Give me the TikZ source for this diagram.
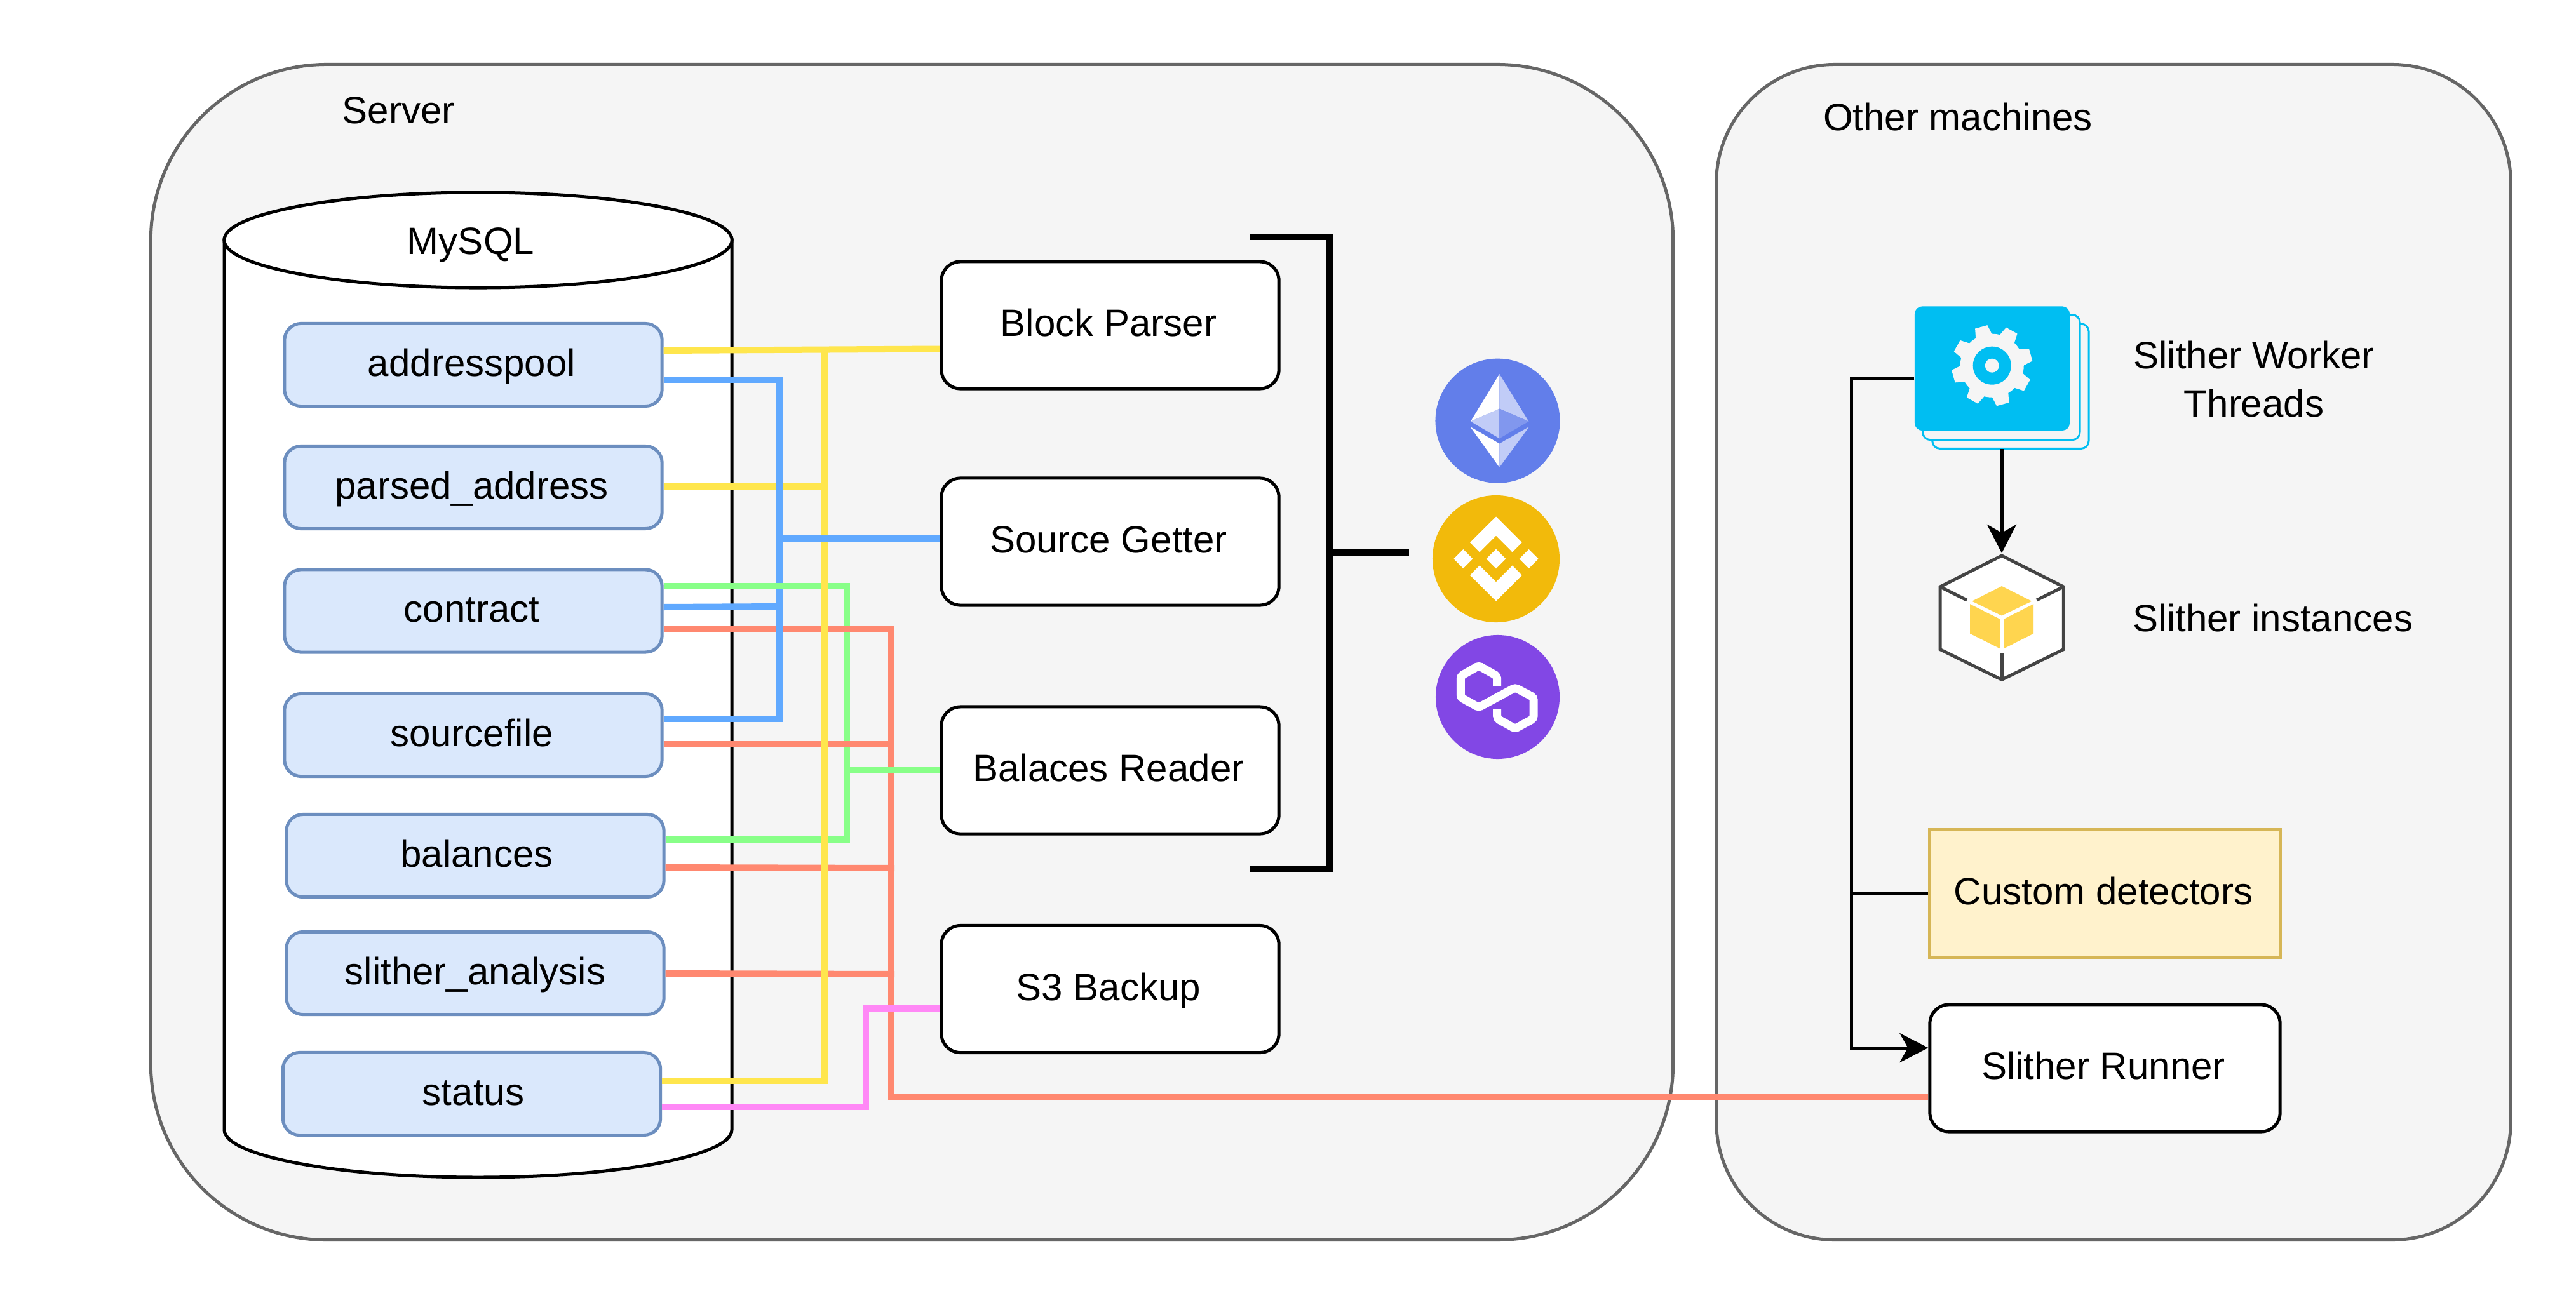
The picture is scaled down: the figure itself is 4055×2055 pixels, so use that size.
\documentclass[tikz,border=0pt]{standalone}
\usepackage{fontspec}
\setmainfont{Liberation Sans}
\usetikzlibrary{arrows.meta}
\definecolor{framefill}{HTML}{F5F5F5}
\definecolor{frameline}{HTML}{666666}
\definecolor{dbfill}{HTML}{DAE8FC}
\definecolor{dbline}{HTML}{6C8EBF}
\definecolor{noteFill}{HTML}{FFF2CC}
\definecolor{noteLine}{HTML}{D6B656}
\definecolor{wyellow}{HTML}{FFE64D}
\definecolor{wblue}{HTML}{60A9FF}
\definecolor{wgreen}{HTML}{88FF88}
\definecolor{wred}{HTML}{FF8870}
\definecolor{wpink}{HTML}{FF88F6}
\definecolor{cardblue}{HTML}{00BEF2}
\definecolor{cubeyellow}{HTML}{FFD54F}
\definecolor{cubeline}{HTML}{444444}
\definecolor{ethblue}{HTML}{627EEA}
\definecolor{ethpale}{HTML}{C1CCF7}
\definecolor{ethmid}{HTML}{8197EE}
\definecolor{bnbgold}{HTML}{F2BA0B}
\definecolor{polypurple}{HTML}{8247E5}
\tikzset{
  every node/.style={font=\fontsize{17.07}{21.6}\selectfont, inner sep=0pt},
  frame/.style={draw=frameline, fill=framefill, line width=0.5mm, rectangle},
  tlabel/.style={text height=4mm, text depth=0pt},
  boxtext/.style={text height=3.5mm, text depth=0pt, execute at end node={\hspace{0.5mm}}},
  nudged/.style={execute at begin node={\hspace{#1}}},
  dbtable/.style={boxtext, draw=dbline, fill=dbfill, line width=0.5mm, rounded corners=2.6mm, rectangle, minimum width=59.4mm, minimum height=13mm},
  procbox/.style={boxtext, draw=black, fill=white, line width=0.5mm, rounded corners=3mm, rectangle, minimum width=53.1mm, minimum height=20mm},
  notebox/.style={boxtext, draw=noteLine, fill=noteFill, line width=0.5mm, rectangle, minimum width=55.1mm, minimum height=20mm},
  wire/.style={line width=1mm, miter limit=10},
  link/.style={draw=black, line width=0.5mm},
  bigtip/.style={-{Stealth[length=4.5mm,width=4.6mm,inset=1.3mm]}},
  bracket/.style={draw=black, line width=1mm},
  cardback/.style={draw=cardblue, fill=framefill, line width=0.3mm, rounded corners=1.2mm, rectangle},
  cubeedge/.style={draw=cubeline, line width=0.5mm},
}
\begin{document}
\begin{tikzpicture}[x=0.01cm,y=-0.01cm]
\useasboundingbox (0,0) rectangle (4055,2055);
\fill[white] (0,0) rectangle (4055,2055);

% frames
\node[frame, rounded corners=27.7mm, minimum width=239.5mm, minimum height=185mm] (server) at (1435.5,1027) {};
\node[frame, rounded corners=18.7mm, minimum width=125mm, minimum height=185mm] (other) at (3327,1027) {};
\node[tlabel] (serverlabel) at (627,174) {Server};
\node[tlabel] (otherlabel) at (3082,185) {Other machines};

% MySQL cylinder
\filldraw[draw=black, fill=white, line width=0.5mm]
  (353,378) -- (353,1779)
  .. controls (353,1820.4) and (531.9,1854) .. (752.5,1854)
  .. controls (973.1,1854) and (1152,1820.4) .. (1152,1779)
  -- (1152,378) -- cycle;
\filldraw[draw=black, fill=white, line width=0.5mm] (752.5,378) ellipse [x radius=3.995cm, y radius=0.75cm];
\node[tlabel] (mysql) at (741,380) {MySQL};

% tables
\node[dbtable] (addresspool) at (745,574.5) {addresspool};
\node[dbtable] (parsedaddress) at (745,767.5) {parsed\_address};
\node[dbtable] (contract) at (745,962) {contract};
\node[dbtable] (sourcefile) at (745,1157.5) {sourcefile};
\node[dbtable, nudged=1mm] (balances) at (748,1347.5) {balances};
\node[dbtable, nudged=0.5mm] (slitheranalysis) at (748,1532.5) {slither\_analysis};
\node[dbtable, nudged=1mm] (status) at (742.5,1722.5) {status};

% processes
\node[procbox] (blockparser) at (1747.5,512) {Block Parser};
\node[procbox] (sourcegetter) at (1747.5,853) {Source Getter};
\node[procbox] (balancesreader) at (1747.5,1213) {Balaces Reader};
\node[procbox] (s3backup) at (1747.5,1557.5) {S3 Backup};

% right side
\node[notebox] (custom) at (3313.5,1407) {Custom detectors};
\node[procbox, minimum width=55.1mm] (runner) at (3313.5,1682) {Slither Runner};

% wire junctions
\coordinate (bluetop) at (1227,598);
\coordinate (bluebottom) at (1227,1132);
\coordinate (greentop) at (1333,922.5);
\coordinate (greenbottom) at (1333,1322);
\coordinate (redtop) at (1403,991);
\coordinate (redbottom) at (1403,1727);
\coordinate (yellowtop) at (1297.5,550.5);
\coordinate (yellowbottom) at (1297.5,1702);
\coordinate (pinktop) at (1362.5,1588);
\coordinate (pinkbottom) at (1362.5,1743);

% green (contract - balances)
\draw[wire, wgreen] (contract.east |- greentop) -- (greentop) -- (greenbottom) -- (balances.east |- greenbottom);
% red
\draw[wire, wred] (contract.east |- redtop) -- (redtop) -- (redbottom) -- (runner.west |- redbottom);
\draw[wire, wred] (sourcefile.east |- 0,1172) -- (1408,1172);
\draw[wire, wred] (balances.east |- 0,1366) -- (1408,1367);
\draw[wire, wred] (slitheranalysis.east |- 0,1533) -- (1408,1534);
% yellow parsed
\draw[wire, wyellow] (parsedaddress.east |- 0,766) -- (1302.5,766);
% blue
\draw[wire, wblue] (addresspool.east |- bluetop) -- (bluetop) -- (bluebottom) -- (sourcefile.east |- bluebottom);
\draw[wire, wblue] (contract.east |- 0,956) -- (1227,955);
% green over
\draw[wire, wgreen] (contract.east |- greentop) -- (greentop);
\draw[wire, wgreen] (greentop |- balancesreader.west) -- (balancesreader.west);
% yellow
\draw[wire, wyellow] (addresspool.east |- 0,552) -- (blockparser.west |- 0,549.5);
\draw[wire, wyellow] (yellowtop) -- (yellowbottom) -- (status.east |- yellowbottom);
% blue to source getter
\draw[wire, wblue] (bluetop |- 0,847.5) -- (sourcegetter.west |- 0,847.5);
% pink
\draw[wire, wpink] (status.east |- pinkbottom) -- (pinkbottom) -- (pinktop) -- (s3backup.west |- pinktop);

% bracket
\coordinate (brTop) at (1967,373);
\coordinate (brTopC) at (2093,373);
\coordinate (brBotC) at (2093,1368);
\coordinate (brBot) at (1967,1368);
\coordinate (brStub) at (2218,870);
\draw[bracket] (brTop) -- (brTopC) -- (brBotC) -- (brBot);
\draw[bracket] (brTopC |- brStub) -- (brStub);

% Ethereum
\fill[ethblue] (2357.5,662.7) circle [radius=0.98cm];
\fill[white] (2360.3,589) -- (2315,663.6) -- (2360.3,643.5) -- cycle;
\fill[ethpale] (2360.3,589) -- (2406.3,663.6) -- (2360.3,643.5) -- cycle;
\fill[ethpale] (2360.3,643.5) -- (2315,663.6) -- (2360.3,690.4) -- cycle;
\fill[ethmid] (2360.3,643.5) -- (2406.3,663.6) -- (2360.3,690.4) -- cycle;
\fill[white] (2314.3,672) -- (2360.3,698.6) -- (2360.3,735.9) -- cycle;
\fill[ethpale] (2407,672) -- (2360.3,698.6) -- (2360.3,735.9) -- cycle;

% BNB
\fill[bnbgold] (2355,880) circle [radius=1cm];
\begin{scope}[shift={(2355,880)}]
  \fill[white] (0,-66.5) -- (40.7,-25.8) -- (25.7,-10.5) -- (0,-36.4) -- (-26,-10.5) -- (-41,-25.8) -- cycle;
  \fill[white] (0,66.5) -- (40.7,25.8) -- (25.7,10.5) -- (0,36.4) -- (-26,10.5) -- (-41,25.8) -- cycle;
  \fill[white] (0,-15.3) -- (15.3,0) -- (0,15.3) -- (-15.3,0) -- cycle;
  \fill[white] (-51.7,-15) -- (-36.7,0) -- (-51.7,15) -- (-66.7,0) -- cycle;
  \fill[white] (51.7,-15) -- (66.7,0) -- (51.7,15) -- (36.7,0) -- cycle;
\end{scope}

% Polygon
\fill[polypurple] (2357.5,1097.5) circle [radius=0.975cm];
\draw[white, line width=1.3mm, rounded corners=0.4mm]
  (2356.7,1080.9) -- (2356.7,1064.6) -- (2327.7,1048.3) -- (2299.3,1064.6) -- (2299.3,1098.1)
  -- (2327.7,1113.9) -- (2385,1082.8) -- (2414,1098.1) -- (2414,1131.6) -- (2385,1147.4)
  -- (2356.7,1131.6) -- (2356.7,1116.3);

% Worker cards
\draw[cardback] (3041.7,510) rectangle (3288,706.4);
\draw[cardback] (3026.7,495.6) rectangle (3274,692.7);
\node[fill=cardblue, rounded corners=1.2mm, rectangle, minimum width=24.4mm, minimum height=19.56mm] (worker) at (3136,580.2) {};
\begin{scope}[shift={(3135.7,575.7)}]
  \fill[framefill] (0,0) circle [radius=0.5cm];
  \foreach \a in {0,45,...,315}{
    \fill[framefill] ({254.4+\a-17}:47) -- ({254.4+\a-9}:64) -- ({254.4+\a+9}:64) -- ({254.4+\a+17}:47) -- cycle;
  }
  \fill[cardblue] (0,0) circle [radius=0.3cm];
  \fill[framefill] (0,0) circle [radius=0.11cm];
\end{scope}

% Slither instance box icon
\filldraw[cubeedge, fill=white] (3151,875) -- (3248.3,924) -- (3248.3,1022.6) -- (3151,1070.3) -- (3054,1022.6) -- (3054,924) -- cycle;
\coordinate (cubetop) at (3151,871);
\draw[cubeedge] (3054,924) -- (3096,945);
\draw[cubeedge] (3248.3,924) -- (3206,945);
\draw[cubeedge] (3151,1070.3) -- (3151,1028);
\fill[cubeyellow] (3151,923) -- (3198.3,946.7) -- (3151,969.5) -- (3104.3,946.7) -- cycle;
\fill[cubeyellow] (3101,951.2) -- (3148.3,975) -- (3148.3,1021.4) -- (3101,997.7) -- cycle;
\fill[cubeyellow] (3154,975) -- (3201,951.2) -- (3201,997.7) -- (3154,1021.4) -- cycle;

% links
\coordinate (workerdrop) at (3151,707);
\coordinate (elbowtop) at (2914,595);
\coordinate (elbowbottom) at (2914,1650);
\draw[link, bigtip] (workerdrop) -- (cubetop);
\draw[link, bigtip] (worker.west |- elbowtop) -- (elbowtop) -- (elbowbottom) -- (runner.west |- elbowbottom);
\draw[link] (elbowtop |- custom.west) -- (custom.west);

% labels
\node[align=center] (workerlabel) at (3548,597.5) {Slither Worker\\Threads};
\node[tlabel] (instancelabel) at (3578,974.5) {Slither instances};
\end{tikzpicture}
\end{document}
